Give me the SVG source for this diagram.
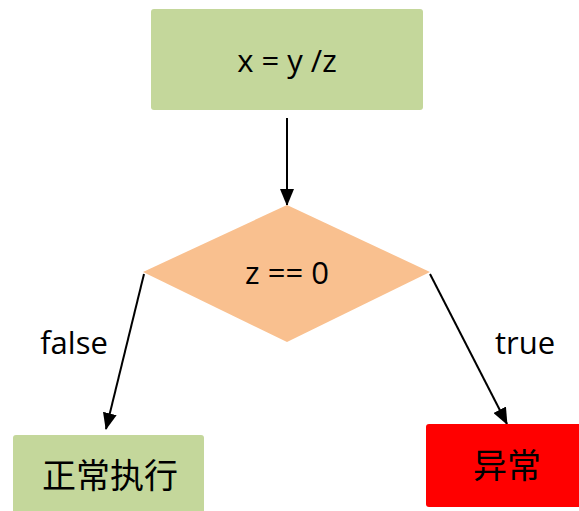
<svg xmlns="http://www.w3.org/2000/svg" width="579" height="511" viewBox="0 0 579 511">
<defs>
<marker id="ah" markerWidth="17" markerHeight="14" refX="16" refY="7" orient="auto" markerUnits="userSpaceOnUse" viewBox="0 0 17 14">
<path d="M0,0 L17,7 L0,14 z" fill="#000"/>
</marker>
<style>
.lbl{font-family:"Open Sans","Liberation Sans",sans-serif;font-size:31px;fill:#000;text-anchor:middle}
.cjk{font-family:"Noto Sans CJK SC",sans-serif;font-size:34px;fill:#000;text-anchor:middle}
.edge{stroke:#000;stroke-width:2;fill:none;marker-end:url(#ah)}
</style>
</defs>
<rect width="579" height="511" fill="#fff"/>
<g id="connectors">
<line class="edge" x1="287" y1="118" x2="287" y2="205"/>
<line class="edge" x1="144" y1="274" x2="106" y2="429"/>
<line class="edge" x1="430" y1="274" x2="507" y2="424"/>
<text class="lbl" x="74" y="354">false</text>
<text class="lbl" x="525" y="354">true</text>
</g>
<g id="n1">
<rect x="151" y="9" width="272" height="101" rx="3" fill="#c4d79b"/>
<text class="lbl" x="287" y="72">x = y /z</text>
</g>
<g id="n2">
<polygon points="287,205 430,272 287,342 143,272" fill="#f9c08f"/>
<text class="lbl" x="287" y="284">z == 0</text>
</g>
<g id="n3">
<rect x="13" y="435" width="191" height="90" rx="3" fill="#c4d79b"/>
<text class="cjk" x="110" y="488">正常执行</text>
</g>
<g id="n4">
<rect x="426" y="424" width="170" height="83" rx="3" fill="#ff0000"/>
<text class="cjk" x="507" y="478">异常</text>
</g>
</svg>
